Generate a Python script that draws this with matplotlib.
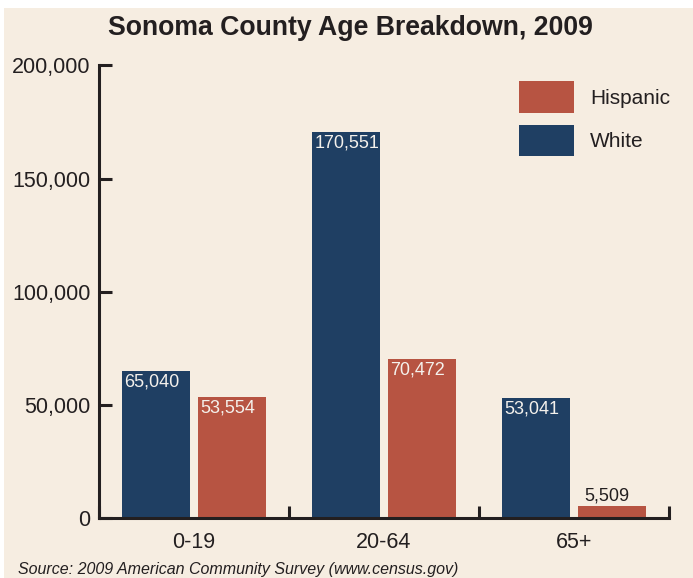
import matplotlib.pyplot as plt
import numpy as np
from matplotlib.patches import Rectangle

# Sonoma County age breakdown, 2009
groups = ['0-19', '20-64', '65+']
white = [65040, 170551, 53041]
hispanic = [53554, 70472, 5509]
y_ticks = [0, 50000, 100000, 150000, 200000]

bg = '#F6EDE1'
navy = '#1F3F63'
rust = '#B75442'
ink = '#231F20'

plt.rcParams['font.family'] = ['Liberation Sans', 'DejaVu Sans']

fig = plt.figure(figsize=(6.93, 5.78), dpi=100, facecolor='white')
fig.patches.append(Rectangle((4 / 693, 0), 1, 1 - 8 / 578, transform=fig.transFigure,
                             facecolor=bg, edgecolor='none', zorder=-1))

ax = fig.add_axes([99 / 693, 60 / 578, 570 / 693, 452.5 / 578])
ax.set_facecolor(bg)

x = np.arange(len(groups))
w = 0.363
off = 0.2
b_white = ax.bar(x - off, white, w, color=navy, label='White')
b_hisp = ax.bar(x + off, hispanic, w, color=rust, label='Hispanic')

# value labels: inside the top of the bar, or just above it if the bar is short
for bars in (b_white, b_hisp):
    for b in bars:
        h = b.get_height()
        if h > 20000:
            ax.annotate(f'{h:,.0f}', (b.get_x(), h), xytext=(2, -2),
                        textcoords='offset points', ha='left', va='top',
                        color='#F4F1EC', fontsize=13)
        else:
            ax.annotate(f'{h:,.0f}', (b.get_x(), h), xytext=(5, 1),
                        textcoords='offset points', ha='left', va='bottom',
                        color=ink, fontsize=13)

ax.set_xlim(-0.5, 2.5)
ax.set_ylim(0, 200000)

ax.set_xticks(x)
ax.set_xticklabels(groups)
ax.set_xticks([-0.5, 0.5, 1.5, 2.5], minor=True)
ax.tick_params(axis='x', which='major', length=0, pad=10, labelsize=15.5, labelcolor=ink)
ax.tick_params(axis='x', which='minor', direction='in', length=9, width=2.2, color=ink)

ax.set_yticks(y_ticks)
ax.set_yticklabels([f'{v:,}' for v in y_ticks])
ax.tick_params(axis='y', direction='in', length=9, width=2.2, color=ink, pad=6,
               labelsize=15.5, labelcolor=ink)

for s in ['top', 'right']:
    ax.spines[s].set_visible(False)
for s in ['left', 'bottom']:
    ax.spines[s].set_linewidth(2.2)
    ax.spines[s].set_color(ink)

handles = [b_hisp, b_white]
ax.legend(handles, ['Hispanic', 'White'], loc='upper left',
          bbox_to_anchor=(509 / 693, 1 - 71 / 578), bbox_transform=fig.transFigure,
          frameon=False, fontsize=15, handlelength=2.6, handleheight=1.94,
          labelspacing=0.58, handletextpad=0.8, labelcolor=ink, borderpad=0)

fig.text(350 / 693, 1 - 28 / 578, 'Sonoma County Age Breakdown, 2009', ha='center',
         va='center', fontsize=19.2, fontweight='bold', color=ink)
fig.text(18 / 693, 1 / 578, 'Source: 2009 American Community Survey (www.census.gov)',
         ha='left', va='bottom', fontsize=11.5, style='italic', color=ink)

plt.savefig('out.png', dpi=100, facecolor=fig.get_facecolor())
